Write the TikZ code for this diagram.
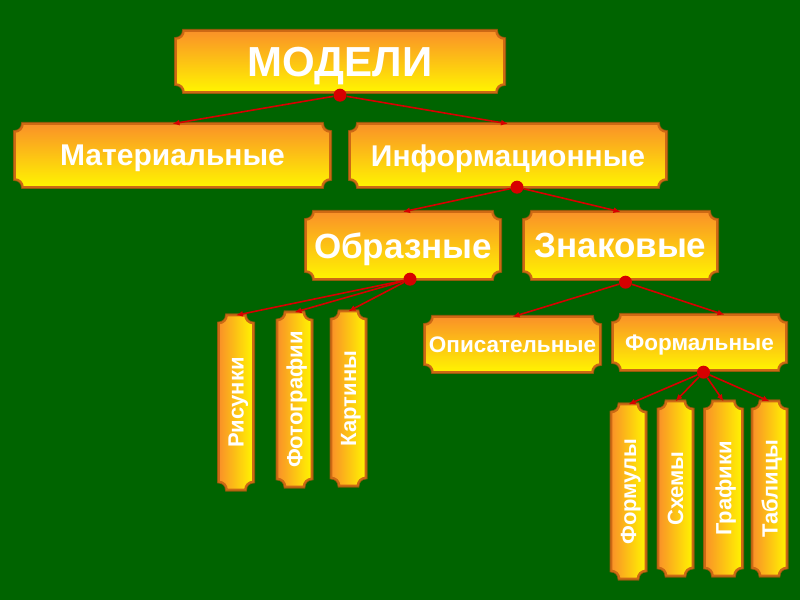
\documentclass[tikz,border=0pt]{standalone}
\usepackage{fontspec}
\setmainfont{Liberation Sans}
\usepackage{graphicx}
\usetikzlibrary{arrows.meta,calc,backgrounds}
\definecolor{fieldgreen}{RGB}{0,100,0}
\definecolor{plaqtop}{RGB}{250,145,40}
\definecolor{plaqbot}{RGB}{255,245,0}
\definecolor{plaqedge}{RGB}{205,105,20}
\definecolor{plaqdark}{RGB}{140,90,10}
\definecolor{linkred}{RGB}{215,0,0}
\tikzstyle{box} = [text=white, inner sep=0pt, align=center, text depth=0pt]
\tikzstyle{tall} = [box, minimum width=34pt, minimum height=174pt,
font=\bfseries\fontsize{22}{26}\selectfont]
\tikzstyle{hshade} = [top color=plaqtop, bottom color=plaqbot]
\tikzstyle{vshade} = [left color=plaqtop, right color=plaqbot]
\tikzstyle{line} = [draw=linkred, line width=1.6pt, -{Latex[length=7pt, width=6pt]}]
\tikzstyle{knot} = [circle, fill=linkred, inner sep=0pt, minimum size=13pt]
\newcommand{\upword}[1]{\rotatebox{90}{\raisebox{0pt}[\height][0pt]{#1}}}
\newcommand{\plaqpath}[1]{%
  let \p1=(#1.south west), \p2=(#1.north east) in
  (\x1+8pt,\y1) -- (\x2-8pt,\y1) arc[start angle=180, end angle=90, radius=8pt]
  -- (\x2,\y2-8pt) arc[start angle=270, end angle=180, radius=8pt]
  -- (\x1+8pt,\y2) arc[start angle=0, end angle=-90, radius=8pt]
  -- (\x1,\y1+8pt) arc[start angle=90, end angle=0, radius=8pt] -- cycle}
\newcommand{\plaque}[2]{%
  \draw [plaqdark, line width=3.6pt] \plaqpath{#1};
  \shadedraw [#2, draw=plaqedge, line width=2pt] \plaqpath{#1};}

\begin{document}
\begin{tikzpicture}[x=1pt, y=1pt]

% Place nodes
\node [box, minimum width=328pt, minimum height=61pt,
  font=\bfseries\fontsize{42}{48}\selectfont] (modeli) at (340,538.5) {МОДЕЛИ};
\node [box, minimum width=315pt, minimum height=63pt,
  font=\bfseries\fontsize{30}{34}\selectfont] (mater) at (172.5,444.5) {Материальные};
\node [box, minimum width=316pt, minimum height=63pt,
  font=\bfseries\fontsize{30}{34}\selectfont] (inform) at (508,444.5) {Информационные};
\node [box, minimum width=194pt, minimum height=67pt,
  font=\bfseries\fontsize{35}{40}\selectfont] (obraz) at (403,354.5) {Образные};
\node [box, minimum width=193pt, minimum height=67pt,
  font=\bfseries\fontsize{35}{40}\selectfont] (znak) at (620.5,354.5) {Знаковые};
\node [box, minimum width=175pt, minimum height=55pt,
  font=\bfseries\fontsize{22.5}{26}\selectfont] (opis) at (512.5,255.5) {Описательные};
\node [box, minimum width=173pt, minimum height=55pt,
  font=\bfseries\fontsize{22.5}{26}\selectfont] (formal) at (699.5,257.5) {Формальные};
\node [tall] (risunki) at (236,197.5) {\upword{Рисунки}};
\node [tall] (foto) at (294.5,200.5) {\upword{Фотографии}};
\node [tall] (kart) at (348.5,201.5) {\upword{Картины}};
\node [tall] (formuly) at (628.5,108.5) {\upword{Формулы}};
\node [tall] (shemy) at (675.5,111.5) {\upword{Схемы}};
\node [tall, minimum width=37pt] (grafiki) at (723.5,111.5) {\upword{Графики}};
\node [tall] (tablicy) at (769.5,111.5) {\upword{Таблицы}};

% Plaques behind the texts
\begin{scope}[on background layer]
\fill [fieldgreen] (0,0) rectangle (800,600);
\foreach \b in {modeli,mater,inform,obraz,znak,opis,formal}
  \plaque{\b}{hshade};
\foreach \b in {risunki,foto,kart,formuly,shemy,grafiki,tablicy}
  \plaque{\b}{vshade};
\end{scope}
\useasboundingbox (0,0) rectangle (800,600);

% Draw edges
\node [knot] (modelidot) at ([yshift=-3pt]modeli.south) {};
\node [knot] (informdot) at ([xshift=9pt]inform.south) {};
\node [knot] (obrazdot) at ([xshift=7pt]obraz.south) {};
\node [knot] (znakdot) at ([xshift=5pt,yshift=-3pt]znak.south) {};
\node [knot] (formaldot) at ([xshift=4pt,yshift=-2pt]formal.south) {};
\path [line] (modelidot) -- (mater.north);
\path [line] (modelidot) -- (inform.north);
\path [line] (informdot) -- (obraz.north);
\path [line] (informdot) -- (znak.north);
\foreach \b in {risunki,foto,kart}
  \path [line] (obrazdot) -- (\b.north);
\path [line] (znakdot) -- (opis.north);
\path [line] (znakdot) -- ([xshift=25pt]formal.north);
\foreach \b in {formuly,shemy,grafiki,tablicy}
  \path [line] (formaldot) -- (\b.north);
\end{tikzpicture}
\end{document}
